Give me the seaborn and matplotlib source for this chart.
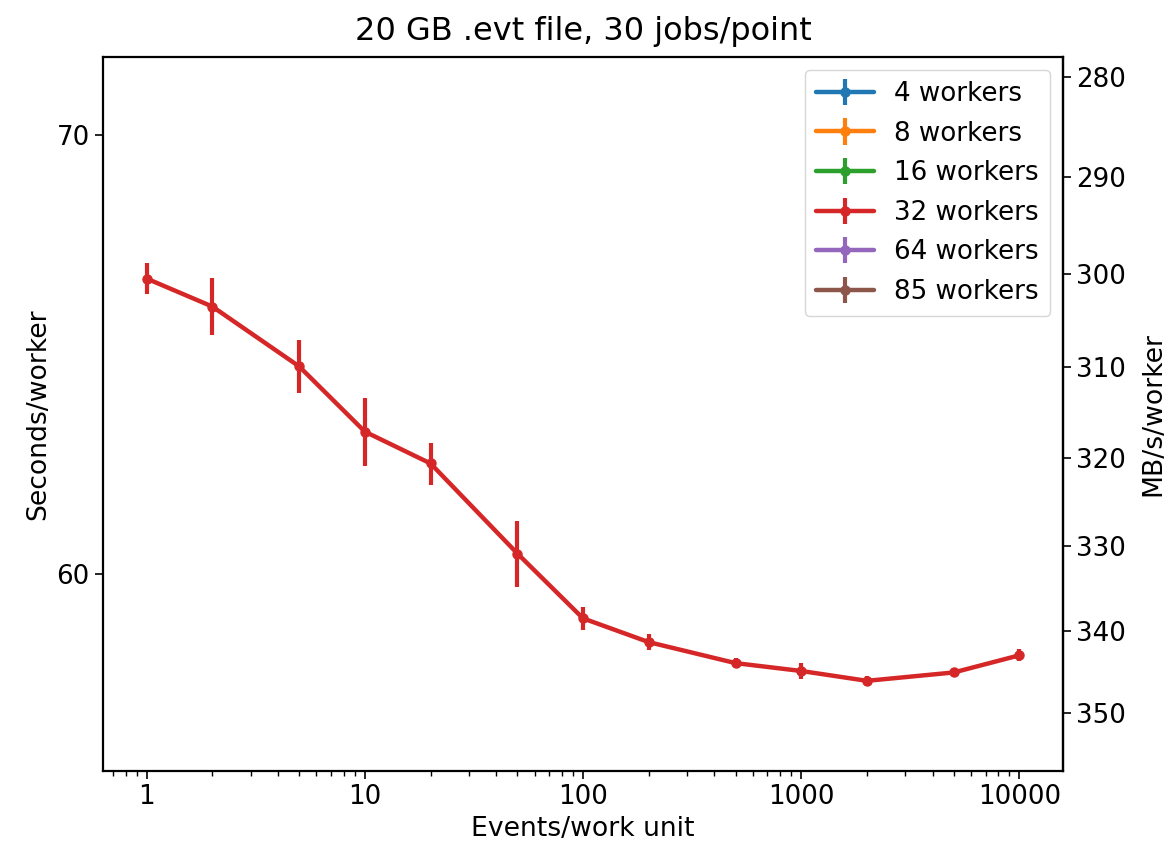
import numpy as np
import matplotlib
matplotlib.use("Agg")
import matplotlib.pyplot as plt
import matplotlib.ticker as mticker
import seaborn as sns

# Data
events_per_unit = [1, 2, 5, 10, 20, 50, 100, 200, 500, 1000, 2000, 5000, 10000]
seconds_32 = [66.56, 65.91, 64.54, 63.08, 62.38, 60.44, 59.08, 58.59, 58.16, 58.00, 57.80, 57.97, 58.32]
err_32 = [0.36, 0.66, 0.60, 0.75, 0.46, 0.70, 0.23, 0.16, 0.10, 0.16, 0.10, 0.10, 0.12]
worker_labels = ["4 workers", "8 workers", "16 workers", "32 workers", "64 workers", "85 workers"]
file_mb = 20000.0
left_ticks = [60, 70]
right_ticks = [280, 290, 300, 310, 320, 330, 340, 350]

sns.set_theme(style="ticks")
plt.rcParams["font.family"] = ["DejaVu Sans"]
plt.rcParams["text.color"] = "black"
plt.rcParams["axes.labelcolor"] = "black"
plt.rcParams["xtick.color"] = "black"
plt.rcParams["ytick.color"] = "black"
FS = 18.8

palette = sns.color_palette("tab10", 6)

fig = plt.figure(figsize=(11.68, 8.51), dpi=100)
ax = fig.add_axes([0.0882, 0.094, 0.822, 0.839])

for i, lab in enumerate(worker_labels):
    if lab == "32 workers":
        ax.errorbar(events_per_unit, seconds_32, yerr=err_32, color=palette[i],
                    marker="o", markersize=6.5, linewidth=3.2, elinewidth=3, label=lab)
    else:
        ax.errorbar([], [], yerr=[], color=palette[i], marker="o", markersize=6.5,
                    linewidth=3.2, elinewidth=3, label=lab)

ax.set_xscale("log")
ax.xaxis.set_major_formatter(mticker.ScalarFormatter())
ax.set_yscale("log")
ax.set_ylim(56.0, 71.94)
ax.set_yticks(left_ticks)
ax.yaxis.set_major_formatter(mticker.ScalarFormatter())
ax.yaxis.set_minor_locator(mticker.NullLocator())
ax.set_xlabel("Events/work unit", fontsize=FS + 0.4)
ax.set_ylabel("Seconds/worker", fontsize=FS + 0.4)
ax.set_title("20 GB .evt file, 30 jobs/point", fontsize=23, pad=12)
ax.tick_params(axis="both", which="major", labelsize=FS, length=6, width=1.2, direction="out")
ax.tick_params(axis="x", which="minor", length=3.5, width=1.0)
for sp in ax.spines.values():
    sp.set_linewidth(1.6)
    sp.set_color("black")


def s_to_mb(s):
    s = np.asarray(s, dtype=float)
    with np.errstate(divide="ignore", invalid="ignore"):
        return file_mb / s


sec = ax.secondary_yaxis("right", functions=(s_to_mb, s_to_mb))
sec.set_yticks(right_ticks)
sec.yaxis.set_major_formatter(mticker.ScalarFormatter())
sec.yaxis.set_minor_locator(mticker.NullLocator())
sec.set_ylabel("MB/s/worker", fontsize=FS + 0.4, labelpad=10)
sec.tick_params(labelsize=FS, length=6, width=1.2)
sec.spines["right"].set_linewidth(1.6)

leg = ax.legend(loc="upper right", fontsize=FS, frameon=True, handlelength=2.2,
                borderpad=0.42, labelspacing=0.52, framealpha=0.8, edgecolor="#cccccc")

fig.savefig("out.png", dpi=100)
